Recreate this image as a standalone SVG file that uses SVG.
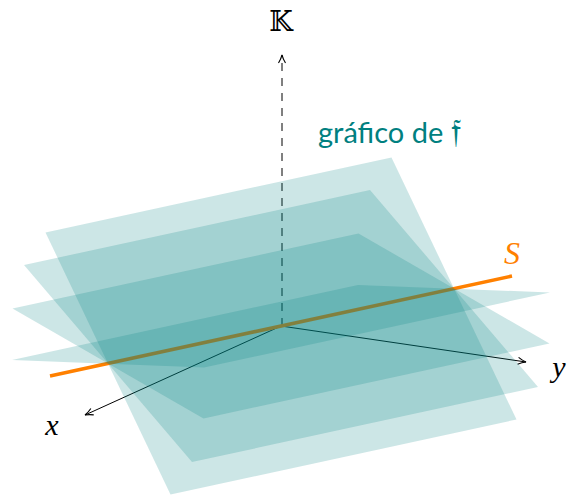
<svg xmlns="http://www.w3.org/2000/svg" width="567" height="496" viewBox="0 0 567 496">
<defs>
<style>
.plane{fill:#008080;fill-opacity:0.2;stroke:none}
.axis{stroke:#000;stroke-width:1;fill:none}
.math{font-family:"Liberation Serif","DejaVu Serif",serif;font-style:italic}
</style>
<marker id="arr" viewBox="0 0 10 10" refX="9" refY="5" markerWidth="10" markerHeight="10" markerUnits="userSpaceOnUse" orient="auto">
<path d="M1,1.5 Q5,4 9,5 Q5,6 1,8.5" fill="none" stroke="#000" stroke-width="1.1"/>
</marker>
</defs>
<g id="connectors">
<line class="axis" x1="281" y1="326" x2="85" y2="415" marker-end="url(#arr)"/>
<line class="axis" x1="281" y1="326" x2="526" y2="362" marker-end="url(#arr)"/>
<line class="axis" x1="282" y1="326" x2="282" y2="55" stroke="#333" stroke-dasharray="8 7" marker-end="url(#arr)"/>
</g>
<g id="plane1"><polygon class="plane" points="45.5,232.5 391.5,157.5 516.5,419.5 170.5,494.5"/></g>
<g id="S-line"><line x1="50" y1="376" x2="512" y2="276" stroke="#ff8000" stroke-width="3.5"/></g>
<g id="plane2"><polygon class="plane" points="24,265 370,190 538,387 192,462"/></g>
<g id="plane3"><polygon class="plane" points="12.5,308.5 358.5,233.5 549.5,343.5 203.5,418.5"/></g>
<g id="plane4"><polygon class="plane" points="12,360 358,285 550,292.5 204,367.5"/></g>
<g id="labels">
<text x="281" y="31" font-family="DejaVu Serif, DejaVu Sans, serif" font-size="27" text-anchor="middle" fill="#000">𝕂</text>
<text x="318" y="143" font-family="Lato, Open Sans, sans-serif" font-size="29" fill="#008080">gráfico de <tspan font-family="DejaVu Sans, Noto Sans, serif" font-size="34">𝔣</tspan></text>
<text class="math" x="52" y="435" font-size="30" text-anchor="middle" fill="#000">x</text>
<text class="math" x="559" y="377" font-size="30" text-anchor="middle" fill="#000">y</text>
<text class="math" x="512" y="264" font-size="32" text-anchor="middle" fill="#ff8000">S</text>
</g>
</svg>
